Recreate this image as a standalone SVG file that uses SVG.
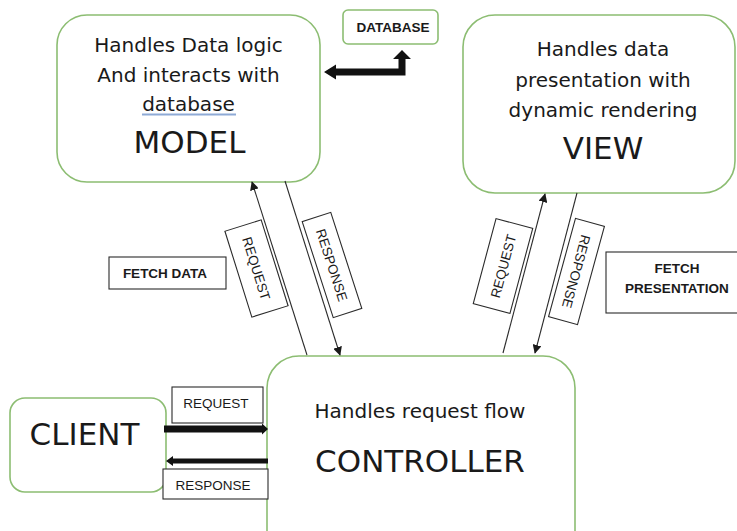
<svg xmlns="http://www.w3.org/2000/svg" width="737" height="531" viewBox="0 0 737 531">
<style>
.node{fill:#ffffff;stroke:#8cbd72;stroke-width:1.6}
.lbl{fill:#ffffff;stroke:#2b2b2b;stroke-width:1.1}
.t{font-family:"DejaVu Sans",sans-serif;fill:#1a1a1a;text-anchor:middle}
.s{font-size:20px}
.b{font-size:31px}
.sm{font-family:"Liberation Sans",Arial,sans-serif;font-size:13.5px;fill:#1a1a1a;text-anchor:middle}
.bold{font-weight:bold}
.ln{stroke:#2b2b2b;stroke-width:1.1;fill:none}
</style>
<defs>
<marker id="ah" viewBox="0 0 10 10" refX="9" refY="5" markerWidth="9" markerHeight="9" markerUnits="userSpaceOnUse" orient="auto">
<path d="M0,0 L10,5 L0,10 z" fill="#1a1a1a"/>
</marker>
</defs>
<rect width="737" height="531" fill="#ffffff"/>

<g id="model">
<rect class="node" x="57" y="15" width="263" height="167" rx="30"/>
<text class="t s" x="188.5" y="52">Handles Data logic</text>
<text class="t s" x="188.5" y="82">And interacts with</text>
<text class="t s" x="188.5" y="111">database</text>
<line x1="142" y1="114.5" x2="236" y2="114.5" stroke="#8eaad6" stroke-width="2"/>
<text class="t b" x="189.5" y="153">MODEL</text>
</g>

<g id="database">
<rect class="node" x="343" y="10" width="95" height="34" rx="5"/>
<text class="sm bold" x="393" y="32">DATABASE</text>
</g>

<g id="view">
<rect class="node" x="463" y="15" width="272" height="178" rx="32"/>
<text class="t s" x="603" y="56">Handles data</text>
<text class="t s" x="603" y="87">presentation with</text>
<text class="t s" x="603" y="117">dynamic rendering</text>
<text class="t b" x="603" y="159">VIEW</text>
</g>

<g id="controller">
<rect class="node" x="267" y="356" width="308" height="210" rx="32"/>
<text class="t s" x="420" y="418">Handles request flow</text>
<text class="t b" x="420" y="472">CONTROLLER</text>
</g>

<g id="client">
<rect class="node" x="10" y="398" width="156" height="94" rx="15"/>
<text class="t b" x="84.5" y="445">CLIENT</text>
</g>

<g id="fetch-data">
<rect class="lbl" x="109" y="257" width="117" height="32"/>
<text class="sm bold" x="165" y="278">FETCH DATA</text>
</g>

<g id="fetch-presentation">
<rect class="lbl" x="606" y="252" width="136" height="61"/>
<text class="sm bold" x="677" y="273">FETCH</text>
<text class="sm bold" x="677" y="293">PRESENTATION</text>
</g>

<g id="connectors">
<path d="M324,72 L336,64.5 L336,68.5 L398.5,68.5 L398.5,59 L393,59 L402,50 L411,59 L405.5,59 L405.5,75.5 L336,75.5 L336,79.5 Z" fill="#111111"/>

<line class="ln" x1="307" y1="355" x2="252" y2="182" marker-end="url(#ah)"/>
<line class="ln" x1="285" y1="181" x2="340" y2="355" marker-end="url(#ah)"/>
<line class="ln" x1="503" y1="353" x2="545" y2="194" marker-end="url(#ah)"/>
<line class="ln" x1="577" y1="193" x2="535" y2="353" marker-end="url(#ah)"/>

<path d="M164,425.5 L262,425.5 L262,423.5 L268,429 L262,434.5 L262,432.5 L164,432.5 Z" fill="#111111"/>
<path d="M268,458.5 L173,458.5 L173,456 L166,461 L173,466 L173,463.5 L268,463.5 Z" fill="#111111"/>

<g transform="translate(256.5,268.5) rotate(72.6)">
<rect class="lbl" x="-45" y="-19" width="90" height="38"/>
<text class="sm" x="0" y="5">REQUEST</text>
</g>
<g transform="translate(332,265) rotate(72.1)">
<rect class="lbl" x="-50.5" y="-15" width="101" height="30"/>
<text class="sm" x="0" y="5">RESPONSE</text>
</g>
<g transform="translate(503,266) rotate(-75)">
<rect class="lbl" x="-44" y="-19" width="88" height="38"/>
<text class="sm" x="0" y="5">REQUEST</text>
</g>
<g transform="translate(576.5,271.5) rotate(105.3)">
<rect class="lbl" x="-51" y="-15" width="102" height="30"/>
<text class="sm" x="0" y="5">RESPONSE</text>
</g>

<g>
<rect class="lbl" x="172" y="387" width="91" height="36"/>
<text class="sm" x="216" y="408">REQUEST</text>
<rect class="lbl" x="163" y="469" width="105" height="30"/>
<text class="sm" x="213" y="490">RESPONSE</text>
</g>
</g>
</svg>
